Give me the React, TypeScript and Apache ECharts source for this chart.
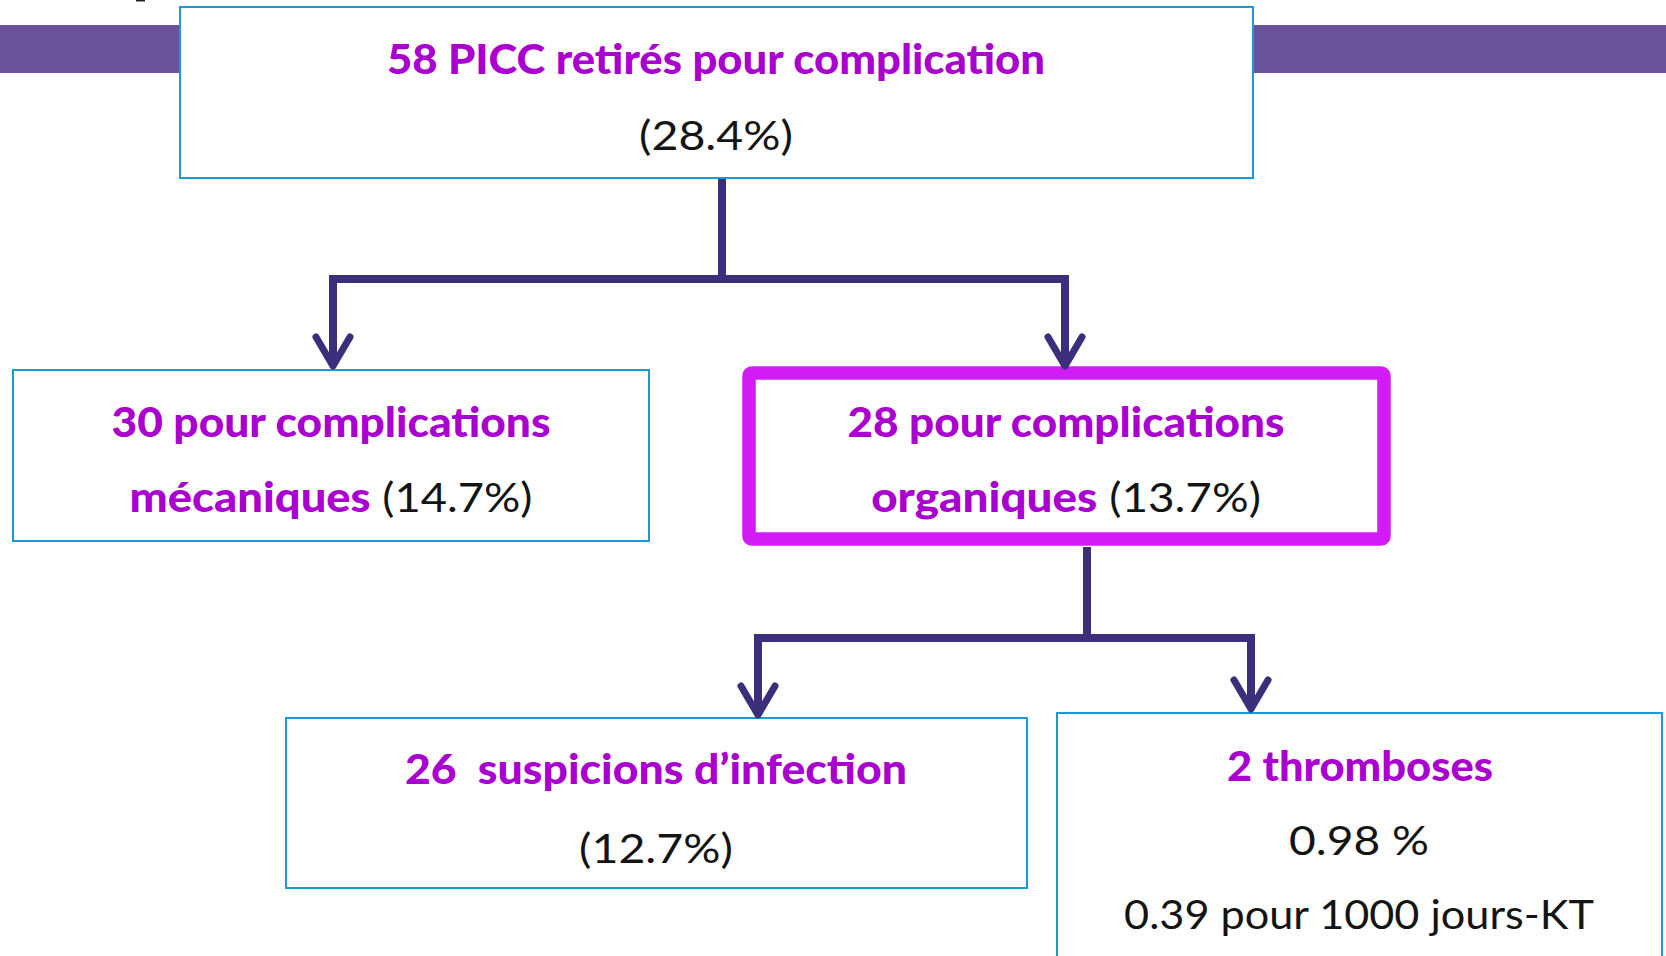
import React, { useEffect, useRef } from "react";
import * as echarts from "echarts";

// ---- data ----
const counts = [58, 30, 28, 26, 2];
const titles = ["PICC retirés pour complication", "pour complications", "pour complications", " suspicions d’infection", "thromboses"];
const subtitles = ["", "mécaniques", "organiques", "", ""];
const percents = ["(28.4%)", "(14.7%)", "(13.7%)", "(12.7%)", "0.98 %"];
const rateValue = ["0.39", "pour 1000 jours-KT"];

// ---- style ----
const PURPLE = "#A900D0";
const BLACK = "#141414";
const BORDER = "#1A9BD6";
const LINK = "#3D2E7B";
const HILITE = "#D21CF6";
const BAR = "#6B539B";
const FONT = "Lato";
const FS = 41;
const HEAVY = 900;

type Seg = { t: string; bold: boolean; color: string };

let ctx: CanvasRenderingContext2D | null = null;
function measure(segs: Seg[]): number {
  if (!ctx) ctx = document.createElement("canvas").getContext("2d");
  let w = 0;
  for (const s of segs) {
    ctx!.font = `${s.bold ? HEAVY + " " : ""}${FS}px ${FONT}`;
    w += ctx!.measureText(s.t).width;
  }
  return w;
}

function textLine(cx: number, cy: number, targetW: number, segs: Seg[]) {
  const rich: any = {};
  const text = segs
    .map((s, i) => {
      rich["s" + i] = {
        fill: s.color,
        fontWeight: s.bold ? HEAVY : "normal",
        fontSize: FS,
        fontFamily: FONT,
      };
      return `{s${i}|${s.t}}`;
    })
    .join("");
  const sx = targetW / measure(segs);
  return {
    type: "text",
    x: cx,
    y: cy,
    scaleX: sx,
    style: {
      text,
      rich,
      align: "center",
      verticalAlign: "middle",
      fontSize: FS,
      fontFamily: FONT,
    },
  };
}

const P = (t: string): Seg => ({ t, bold: true, color: PURPLE });
const K = (t: string): Seg => ({ t, bold: false, color: BLACK });

function box(x: number, y: number, w: number, h: number) {
  return {
    type: "rect",
    shape: { x, y, width: w, height: h },
    style: { fill: "#ffffff", stroke: BORDER, lineWidth: 2 },
  };
}

function link(points: number[][], lw = 8) {
  return {
    type: "polyline",
    shape: { points },
    style: { stroke: LINK, lineWidth: lw, fill: "none", lineJoin: "miter", lineCap: "butt" },
  };
}

function chevron(x: number, tipY: number) {
  return {
    type: "polyline",
    shape: { points: [[x - 17, tipY - 29], [x, tipY], [x + 17, tipY - 29]] },
    style: { stroke: LINK, lineWidth: 7, fill: "none", lineJoin: "round", lineCap: "round" },
  };
}

export default function App() {
  const ref = useRef<HTMLDivElement>(null);
  useEffect(() => {
    document.body.style.margin = "0";
    const chart = echarts.init(ref.current!, undefined, { renderer: "svg" });
    const elements: any[] = [
      { type: "rect", shape: { x: 0, y: 25, width: 1666, height: 48 }, style: { fill: BAR } },
      { type: "rect", shape: { x: 136, y: 0, width: 9, height: 1.5 }, style: { fill: "#222" } },
      box(180, 7, 1073, 171),
      box(13, 370, 636, 171),
      {
        type: "rect",
        shape: { x: 749, y: 373, width: 635, height: 166, r: 3 },
        style: { fill: "#ffffff", stroke: HILITE, lineWidth: 13.5, lineJoin: "round" },
      },
      box(286, 718, 741, 170),
      box(1057, 713, 605, 280),
      // connectors
      link([[722, 179], [722, 279]]),
      link([[333, 364], [333, 279], [1065, 279], [1065, 364]]),
      chevron(333, 366),
      chevron(1065, 366),
      link([[1087, 547], [1087, 638]]),
      link([[758, 714], [758, 638], [1251, 638], [1251, 708]]),
      chevron(758, 715),
      chevron(1251, 709),
      // texts
      textLine(716, 58, 659, [P(`${counts[0]} ${titles[0]}`)]),
      textLine(716, 134, 154, [K(percents[0])]),
      textLine(331, 421, 440, [P(`${counts[1]} ${titles[1]}`)]),
      textLine(331, 496, 403, [P(subtitles[1]), K(" " + percents[1])]),
      textLine(1066, 421, 438, [P(`${counts[2]} ${titles[2]}`)]),
      textLine(1066, 496, 390, [P(subtitles[2]), K(" " + percents[2])]),
      textLine(656, 768, 502, [P(`${counts[3]} ${titles[3]}`)]),
      textLine(656, 847, 154, [K(percents[3])]),
      textLine(1360, 765, 266, [P(`${counts[4]} ${titles[4]}`)]),
      textLine(1359, 839, 140, [K(percents[4])]),
      textLine(1359, 913, 471, [K(`${rateValue[0]} ${rateValue[1]}`)]),
    ];
    chart.setOption({
      animation: false,
      backgroundColor: "#ffffff",
      graphic: { elements },
    });
    return () => chart.dispose();
  }, []);
  return (
    <div
      ref={ref}
      style={{ position: "absolute", left: 0, top: 0, width: 1666, height: 956 }}
    />
  );
}
